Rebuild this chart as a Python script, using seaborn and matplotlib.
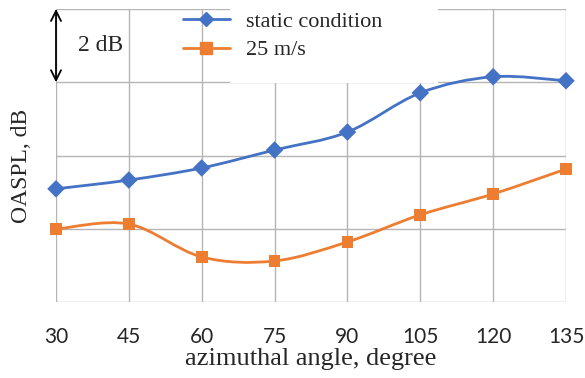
import numpy as np
import matplotlib
matplotlib.use('Agg')
import matplotlib.pyplot as plt
import seaborn as sns
from matplotlib.path import Path
from matplotlib.patches import PathPatch, Rectangle
from matplotlib.lines import Line2D

# valores (dB relativos, grade a cada 2 dB)
angulos = [30, 45, 60, 75, 90, 105, 120, 135]
static_cond = [3.09, 3.33, 3.66, 4.15, 4.64, 5.71, 6.15, 6.04]
v25 = [1.99, 2.13, 1.23, 1.12, 1.64, 2.38, 2.95, 3.63]
nomes = ['static condition', '25 m/s']
cores = ['#4472C4', '#ED7D31']
marcadores = ['D', 's']

sns.set_style('white')
plt.rcParams['font.family'] = ['Liberation Serif', 'DejaVu Serif']


def curva_suave(ax, xs, ys, cor):
    # bezier no estilo "linha suavizada" do excel
    p = np.column_stack([xs, ys]).astype(float)
    n = len(p)
    verts = [p[0]]
    codes = [Path.MOVETO]
    for i in range(n - 1):
        p0 = p[i - 1] if i > 0 else p[i]
        p3 = p[i + 2] if i + 2 < n else p[i + 1]
        c1 = p[i] + (p[i + 1] - p0) / 6
        c2 = p[i + 1] - (p3 - p[i]) / 6
        verts += [c1, c2, p[i + 1]]
        codes += [Path.CURVE4] * 3
    ax.add_patch(PathPatch(Path(verts, codes), fill=False, edgecolor=cor,
                           lw=2.0, zorder=3, capstyle='round'))


fig = plt.figure(figsize=(5.85, 3.78), dpi=100)
ax = fig.add_axes([56 / 585, 1 - 302 / 378, 510 / 585, 293 / 378])

for ys, cor, m in zip([static_cond, v25], cores, marcadores):
    curva_suave(ax, angulos, ys, cor)
    sns.scatterplot(x=angulos, y=ys, marker=m, color=cor, s=70 if m == 's' else 80,
                    edgecolor='none', zorder=4, ax=ax, clip_on=False)

ax.set_xlim(30, 135)
ax.set_ylim(0, 8)
ax.set_xticks(angulos)
ax.set_yticks([0, 2, 4, 6, 8])
ax.set_yticklabels([])
ax.grid(True, color='#b5b5b5', lw=1.0, zorder=0)
ax.set_axisbelow(True)
for s in ax.spines.values():
    s.set_visible(False)
ax.tick_params(axis='both', length=0)
ax.tick_params(axis='x', pad=18)
for t in ax.get_xticklabels():
    t.set_fontfamily(['Lato', 'DejaVu Sans'])
    t.set_fontsize(15)

ax.set_xlabel('azimuthal angle, degree', fontsize=19, labelpad=1)
ax.set_ylabel('OASPL, dB', fontsize=17)
ax.yaxis.set_label_coords(-0.047, 0.465)

# fundo branco da legenda
ax.add_patch(Rectangle((0.341, 0.748), 0.408, 0.3, transform=ax.transAxes,
                       facecolor='white', edgecolor='none', zorder=1, clip_on=False))

handles = [Line2D([], [], color=c, lw=2.0, marker=m, markersize=8 if m == 's' else 7)
           for c, m in zip(cores, marcadores)]
ax.legend(handles, nomes, loc='upper left', bbox_to_anchor=(0.21, 1.06),
          frameon=False, fontsize=16, handlelength=2.1, handletextpad=0.75,
          labelspacing=0.35)

# seta de 2 dB
ax.annotate('', xy=(30, 8), xytext=(30, 6),
            arrowprops=dict(arrowstyle='<->', color='black', lw=1.3,
                            shrinkA=0, shrinkB=0, mutation_scale=18))
ax.text(34.5, 7.0, '2 dB', fontsize=17, va='center', ha='left')

fig.savefig('out.png', dpi=100)
